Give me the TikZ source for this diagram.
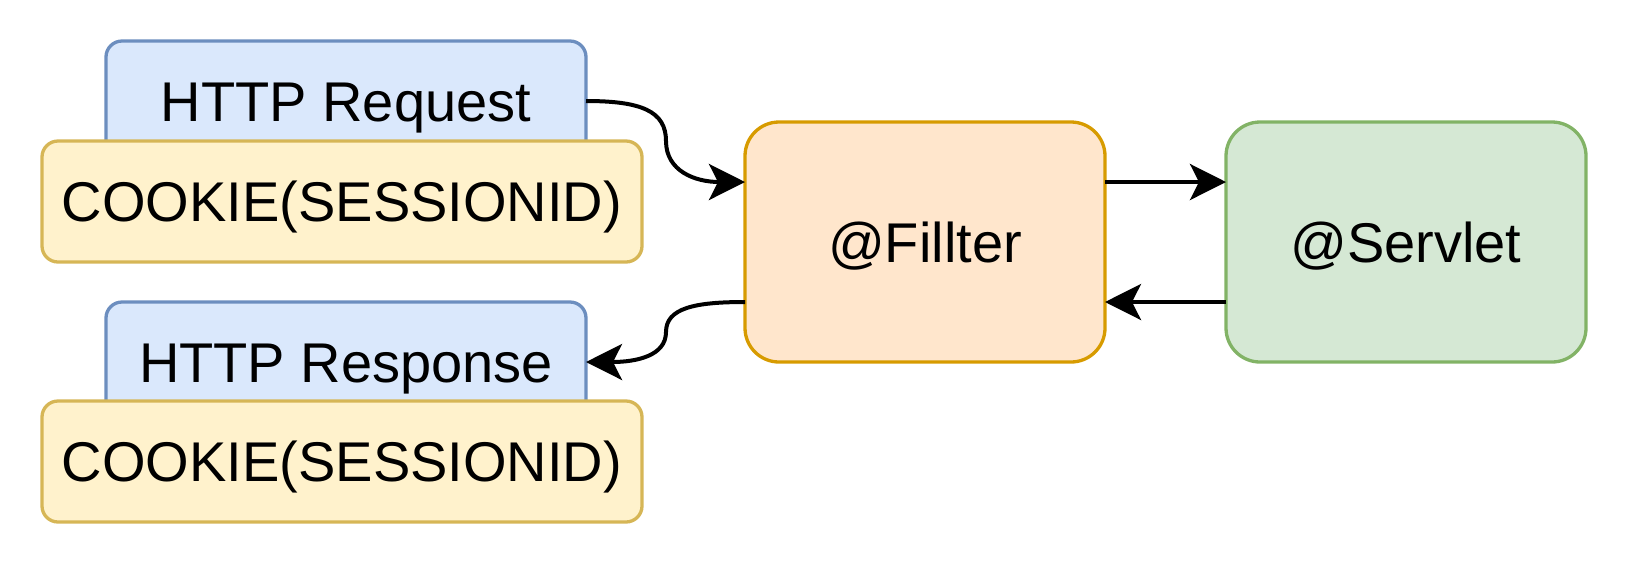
\documentclass[tikz,border=0pt]{standalone}
\usepackage{fontspec}
\setmainfont{Liberation Sans}
\usetikzlibrary{arrows.meta,calc}
\definecolor{bluefill}{HTML}{DAE8FC}
\definecolor{bluedraw}{HTML}{6C8EBF}
\definecolor{yelfill}{HTML}{FFF2CC}
\definecolor{yeldraw}{HTML}{D6B656}
\definecolor{orafill}{HTML}{FFE6CC}
\definecolor{oradraw}{HTML}{D79B00}
\definecolor{grefill}{HTML}{D5E8D4}
\definecolor{gredraw}{HTML}{82B366}
\tikzset{
  box/.style={draw, line width=1.65pt, inner sep=0pt, outer sep=0pt,
    font=\fontsize{28pt}{34pt}\selectfont, text height=20pt, text depth=0pt},
  httpbox/.style={box, fill=bluefill, draw=bluedraw, rounded corners=8pt,
    minimum width=240pt, minimum height=60pt},
  cookiebox/.style={box, fill=yelfill, draw=yeldraw, rounded corners=8pt,
    minimum width=300pt, minimum height=60.5pt},
  bigbox/.style={box, rounded corners=17pt, minimum width=180pt, minimum height=120pt},
  arr/.style={line width=2pt, -{Stealth[length=18pt, width=18pt, inset=4.5pt]}}
}
\begin{document}
\begin{tikzpicture}[x=0.5pt, y=-0.5pt]
\useasboundingbox (0,0) rectangle (1632,564);
% request
\node[httpbox] (req) at (346,101) {HTTP Request};
\node[cookiebox] (reqc) at (342,201.5) {COOKIE(SESSIONID)};
% response
\node[httpbox] (resp) at (346,362) {HTTP Response};
\node[cookiebox] (respc) at (342,461.5) {COOKIE(SESSIONID)};
% filter and servlet
\node[bigbox, fill=orafill, draw=oradraw] (filter) at (925,242) {@Fillter};
\node[bigbox, fill=grefill, draw=gredraw] (servlet) at (1406,242) {@Servlet};
% anchor points
\coordinate (fwin) at ($(filter.north west)!0.25!(filter.south west)$);
\coordinate (fwout) at ($(filter.north west)!0.75!(filter.south west)$);
\coordinate (feout) at ($(filter.north east)!0.25!(filter.south east)$);
\coordinate (fein) at ($(filter.north east)!0.75!(filter.south east)$);
\coordinate (swin) at ($(servlet.north west)!0.25!(servlet.south west)$);
\coordinate (swout) at ($(servlet.north west)!0.75!(servlet.south west)$);
\coordinate (m1) at (666,141);
\coordinate (m2) at (666,332);
% connectors
\draw[arr] (req.east) .. controls +(55,0) and +(0,-30) .. (m1)
  .. controls +(0,30) and +(-50,0) .. (fwin);
\draw[arr] (feout) -- (swin);
\draw[arr] (swout) -- (fein);
\draw[arr] (fwout) .. controls +(-50,0) and +(0,-24) .. (m2)
  .. controls +(0,24) and +(50,0) .. (resp.east);
\end{tikzpicture}
\end{document}
